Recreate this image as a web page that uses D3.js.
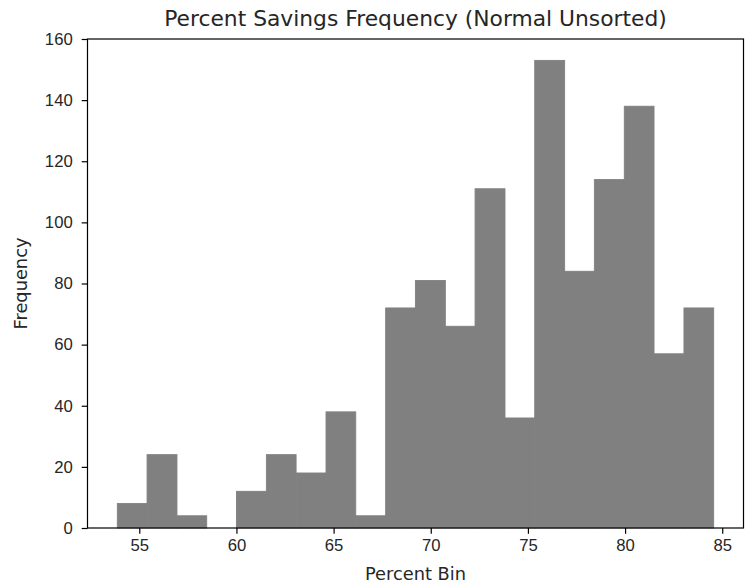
<!DOCTYPE html>
<html>
<head>
<meta charset="utf-8">
<script src="https://cdn.jsdelivr.net/npm/d3@7"></script>
<style>
  body { margin: 0; background: #fff; }
  svg { font-family: "DejaVu Sans", sans-serif; }
  .tick text { font-size: 16.7px; fill: #262626; }
  .axis path, .axis line { stroke: #000; stroke-width: 1.2; }
</style>
</head>
<body>
<svg width="745" height="586"></svg>
<script>
// bin edges and counts
var binEdges = [53.87, 55.40, 56.94, 58.47, 60.00, 61.54, 63.07, 64.61, 66.14, 67.68, 69.21,
                70.75, 72.28, 73.82, 75.35, 76.89, 78.42, 79.96, 81.49, 83.03, 84.56];
var counts = [8, 24, 4, 0, 12, 24, 18, 38, 4, 72, 81, 66, 111, 36, 153, 84, 114, 138, 57, 72];
var xTicks = [55, 60, 65, 70, 75, 80, 85];
var yTicks = [0, 20, 40, 60, 80, 100, 120, 140, 160];

var bins = counts.map(function (c, i) { return { x0: binEdges[i], x1: binEdges[i + 1], n: c }; });

var svg = d3.select('svg');
var plotLeft = 87.5, plotRight = 743.5, plotTop = 39, plotBottom = 528;

// 5% margin like matplotlib
var span = binEdges[binEdges.length - 1] - binEdges[0];
var x = d3.scaleLinear()
    .domain([binEdges[0] - span * 0.05, binEdges[binEdges.length - 1] + span * 0.05])
    .range([plotLeft, plotRight]);
var y = d3.scaleLinear().domain([0, 160]).range([plotBottom, plotTop]);

// bars
svg.append('g')
    .selectAll('rect')
    .data(bins.filter(function (d) { return d.n > 0; }))
    .enter()
        .append('rect')
        .attr('x', function (d) { return x(d.x0); })
        .attr('y', function (d) { return y(d.n); })
        .attr('width', function (d) { return x(d.x1) - x(d.x0); })
        .attr('height', function (d) { return y(0) - y(d.n); })
        .attr('fill', '#808080')
        .attr('stroke', '#808080')
        .attr('stroke-width', 0.9);

// axes
svg.append('g')
    .attr('class', 'axis')
    .attr('transform', 'translate(0,' + plotBottom + ')')
    .call(d3.axisBottom(x).tickValues(xTicks).tickSize(5.8).tickPadding(5.5).tickSizeOuter(0));

svg.append('g')
    .attr('class', 'axis')
    .attr('transform', 'translate(' + plotLeft + ',0)')
    .call(d3.axisLeft(y).tickValues(yTicks).tickSize(5.8).tickPadding(9).tickSizeOuter(0));

svg.selectAll('.axis .domain').remove();

// frame
svg.append('rect')
    .attr('x', plotLeft)
    .attr('y', plotTop)
    .attr('width', plotRight - plotLeft)
    .attr('height', plotBottom - plotTop)
    .attr('fill', 'none')
    .attr('stroke', '#000')
    .attr('stroke-width', 1.2);

// title and labels
svg.append('text')
    .attr('x', (plotLeft + plotRight) / 2)
    .attr('y', 26)
    .attr('text-anchor', 'middle')
    .attr('font-size', 21.8)
    .attr('fill', '#262626')
    .text('Percent Savings Frequency (Normal Unsorted)');

svg.append('text')
    .attr('x', (plotLeft + plotRight) / 2)
    .attr('y', 580)
    .attr('text-anchor', 'middle')
    .attr('font-size', 17.8)
    .attr('fill', '#262626')
    .text('Percent Bin');

svg.append('text')
    .attr('transform', 'translate(27,' + (plotTop + plotBottom) / 2 + ') rotate(-90)')
    .attr('text-anchor', 'middle')
    .attr('font-size', 17.8)
    .attr('fill', '#262626')
    .text('Frequency');
</script>
</body>
</html>
